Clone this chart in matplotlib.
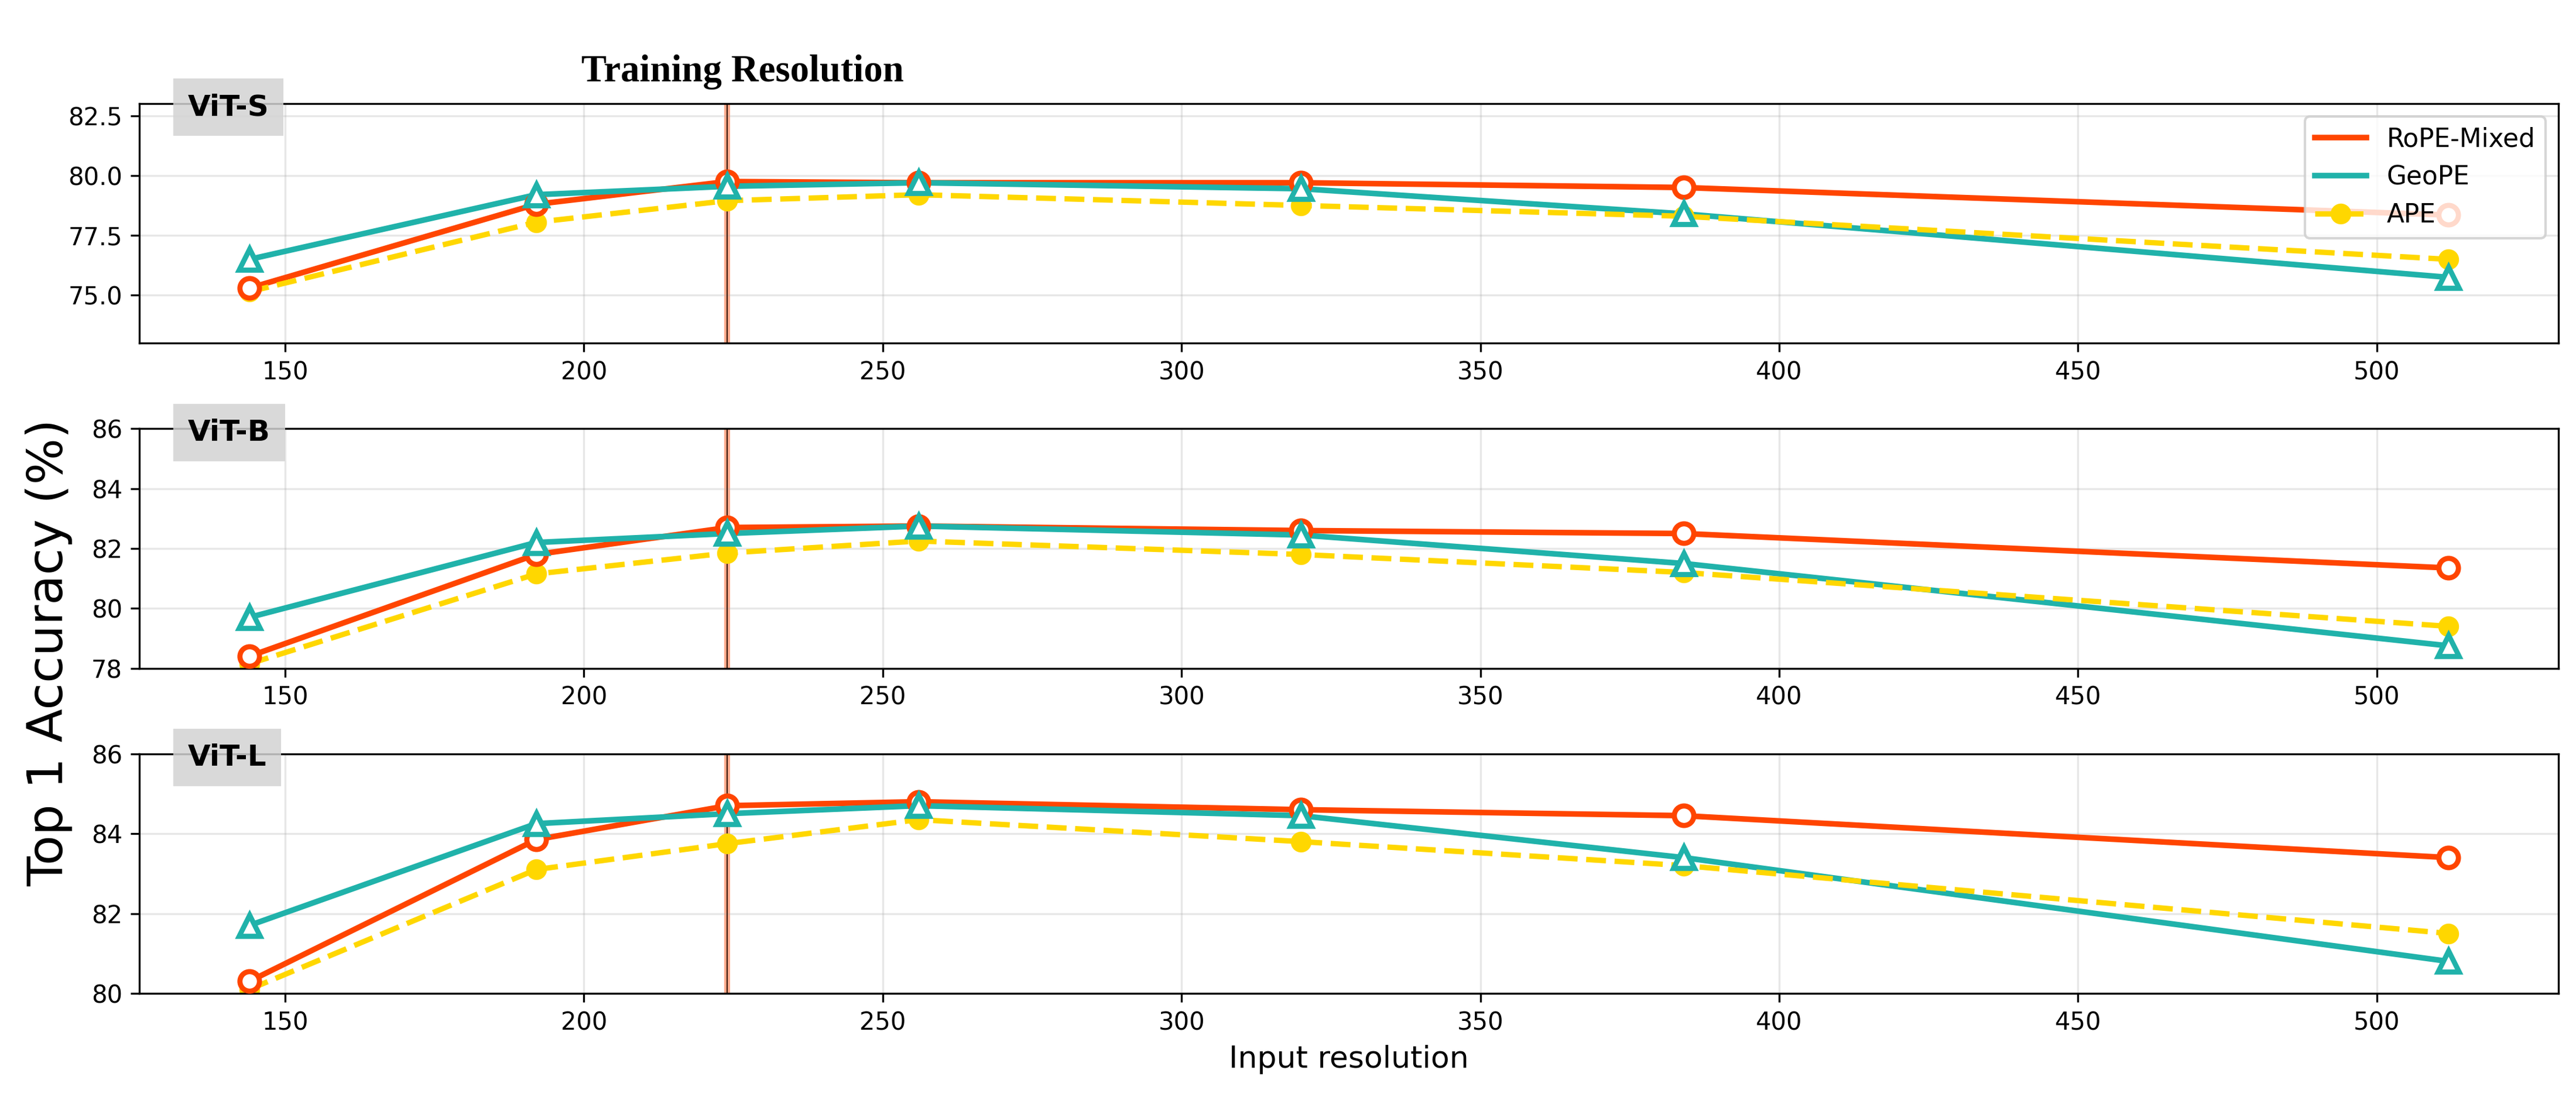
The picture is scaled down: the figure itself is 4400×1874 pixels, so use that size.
#!/usr/bin/env python3
"Top-1 accuracy vs. input resolution for three ViT sizes and three position encodings"

import matplotlib
matplotlib.use("Agg")
import matplotlib.pyplot as plt

RESOLUTIONS = [144, 192, 224, 256, 320, 384, 512]
TRAIN_RES = 224

MODELS = ["ViT-S", "ViT-B", "ViT-L"]

ROPE_S = [75.3, 78.8, 79.75, 79.7, 79.7, 79.5, 78.35]
GEOPE_S = [76.5, 79.2, 79.55, 79.7, 79.45, 78.4, 75.75]
APE_S = [75.15, 78.05, 78.95, 79.2, 78.75, 78.3, 76.5]

ROPE_B = [78.4, 81.8, 82.7, 82.75, 82.6, 82.5, 81.35]
GEOPE_B = [79.7, 82.2, 82.5, 82.75, 82.45, 81.5, 78.75]
APE_B = [78.15, 81.15, 81.85, 82.25, 81.8, 81.2, 79.4]

ROPE_L = [80.3, 83.85, 84.7, 84.8, 84.6, 84.45, 83.4]
GEOPE_L = [81.7, 84.25, 84.5, 84.7, 84.45, 83.4, 80.8]
APE_L = [80.1, 83.1, 83.75, 84.35, 83.8, 83.2, 81.5]

YLIMS = [(73, 83), (78, 86), (80, 86)]
YTICKS = [[75.0, 77.5, 80.0, 82.5], [78, 80, 82, 84, 86], [80, 82, 84, 86]]

ROPE_COLOR = '#FF4500'
GEOPE_COLOR = '#20B2AA'
APE_COLOR = '#FFD700'


def main():
    "Main function"
    fig, axes = plt.subplots(3, 1, figsize=(4400 / 300, 1874 / 300))
    fig.subplots_adjust(left=0.0541, right=0.9932, top=0.9055,
                        bottom=0.0945, hspace=0.357)

    series = [(ROPE_S, GEOPE_S, APE_S), (ROPE_B, GEOPE_B, APE_B),
              (ROPE_L, GEOPE_L, APE_L)]

    for i, (axis, (rope, geope, ape)) in enumerate(zip(axes, series)):
        # training resolution marker
        axis.axvline(TRAIN_RES, color=ROPE_COLOR, lw=2.4, alpha=0.45, zorder=1.5)
        axis.axvline(TRAIN_RES, color='#3a1a0a', lw=0.5, zorder=1.6)

        # lines (labelled), then markers on top
        axis.plot(RESOLUTIONS, rope, '-', color=ROPE_COLOR, lw=2.3,
                  label='RoPE-Mixed', zorder=2)
        axis.plot(RESOLUTIONS, geope, '-', color=GEOPE_COLOR, lw=2.3,
                  label='GeoPE', zorder=2)
        axis.plot(RESOLUTIONS, ape, '--', color=APE_COLOR, lw=2.2,
                  marker='o', markersize=7.5, label='APE', zorder=2)
        axis.plot(RESOLUTIONS, rope, 'o', color=ROPE_COLOR, markersize=8,
                  mfc='white', mew=2.1, zorder=3)
        axis.plot(RESOLUTIONS, geope, '^', color=GEOPE_COLOR, markersize=8.5,
                  mfc='white', mew=2.1, zorder=4)

        axis.set_ylim(*YLIMS[i])
        axis.set_yticks(YTICKS[i])
        if i == 0:
            axis.set_yticklabels(["%.1f" % t for t in YTICKS[i]])
        axis.grid(True, alpha=0.3)
        axis.tick_params(labelsize=10)

        axis.text(0.02, 0.985, MODELS[i], transform=axis.transAxes,
                  fontsize=12, fontweight='bold', ha='left', va='center',
                  bbox=dict(boxstyle='square,pad=0.5', facecolor='lightgray',
                            edgecolor='none', alpha=0.85),
                  zorder=10)

    axes[0].text(226.5, 1.093, 'Training Resolution',
                 transform=axes[0].get_xaxis_transform(),
                 family='Liberation Serif', fontweight='bold', fontsize=15.5,
                 ha='center', va='baseline')
    axes[0].legend(loc='upper right', fontsize=10.5)

    axes[2].set_xlabel('Input resolution', fontsize=12.5)
    fig.text(0.019, 0.405, 'Top 1 Accuracy (%)', rotation=90, fontsize=20,
             ha='center', va='center')

    fig.savefig('out.png', dpi=300)


if __name__ == "__main__":
    main()
